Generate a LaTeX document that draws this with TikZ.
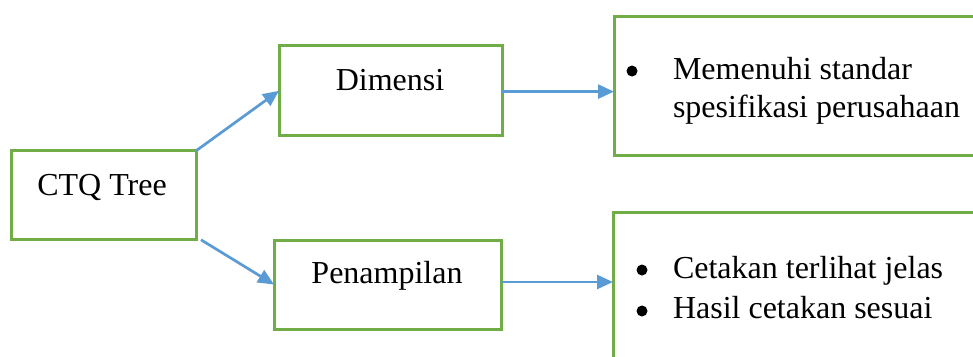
\documentclass[tikz,border=0pt]{standalone}
\usepackage{fontspec}
\setmainfont{Liberation Serif}
\usetikzlibrary{arrows.meta}
\definecolor{gboxc}{HTML}{70AD47}
\definecolor{barrow}{HTML}{5B9BD5}
\begin{document}
\begin{tikzpicture}[x=1pt,y=-1pt,
  box/.style={draw=gboxc, line width=3pt, inner sep=0pt, outer sep=0pt},
  lbl/.style={inner sep=0pt, outer sep=0pt, font=\fontsize{32}{38}\selectfont},
  dot/.style={circle, fill=black, inner sep=0pt, minimum size=11pt},
  arr/.style={draw=barrow, line width=2.7pt, -{Triangle[length=16pt,width=14pt]}}]
\useasboundingbox (0,0) rectangle (973,356);
\fill[white] (0,0) rectangle (973,356);
% boxes
\node[box, minimum width=185pt, minimum height=89pt] (ctq) at (103.5,195.3) {};
\node[box, minimum width=223pt, minimum height=90pt] (dim) at (390.5,90.8) {};
\node[box, minimum width=227pt, minimum height=89pt] (pen) at (387.5,284.5) {};
\node[box, minimum width=386pt, minimum height=139pt] (r1) at (807,85.5) {};
\node[box, minimum width=387pt, minimum height=188pt] (r2) at (806.5,306) {};
% labels
\node[lbl, anchor=base] (tctq) at (102,195) {CTQ Tree};
\node[lbl, anchor=base] (tdim) at (390,90) {Dimensi};
\node[lbl, anchor=base] (tpen) at (387,283) {Penampilan};
\node[dot] (b1) at (632,71) {};
\node[lbl, anchor=base west] (t1a) at (673,79) {Memenuhi standar};
\node[lbl, anchor=base west] (t1b) at (673,117) {spesifikasi perusahaan};
\node[dot] (b2) at (642,270) {};
\node[lbl, anchor=base west] (t2a) at (673,278) {Cetakan terlihat jelas};
\node[dot] (b3) at (642,311) {};
\node[lbl, anchor=base west] (t2b) at (673,318) {Hasil cetakan sesuai};
% connectors
\draw[arr] (ctq.north east) -- (dim.west);
\draw[arr] ([xshift=5pt]ctq.south east) -- (pen.west);
\draw[arr] ([yshift=-0.8pt]dim.east) -- ([yshift=-0.8pt]dim.east -| r1.west);
\draw[arr] ([yshift=2.5pt]pen.east) -- ([yshift=2.5pt]pen.east -| r2.west);
\end{tikzpicture}
\end{document}
